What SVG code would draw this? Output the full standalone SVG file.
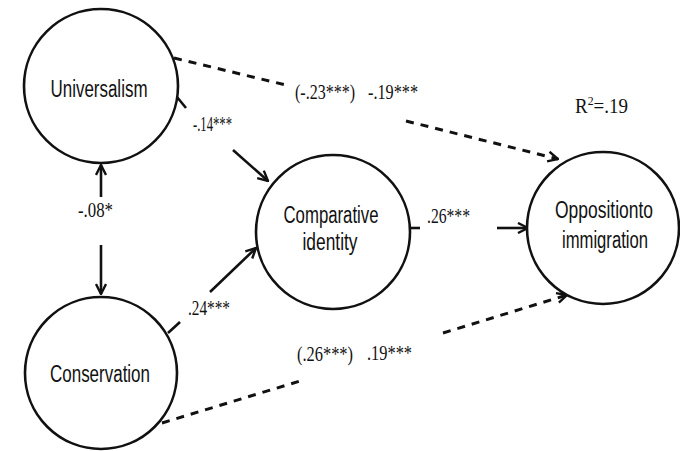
<svg xmlns="http://www.w3.org/2000/svg" width="680" height="451" viewBox="0 0 680 451">
<style>
.node circle{fill:#fff;stroke:#111;stroke-width:2.6}
.lbl{font-family:"Liberation Sans",Arial,sans-serif;font-size:23px;fill:#111;text-anchor:middle}
.coef{font-family:"Liberation Serif","Times New Roman",serif;font-size:21px;fill:#111}
.edge{fill:none;stroke:#111;stroke-width:2.6}
.dash{stroke-dasharray:8 7;stroke-width:3}
</style>
<defs>
<marker id="ah" viewBox="0 0 12 12" refX="11" refY="6" markerWidth="12" markerHeight="12" markerUnits="userSpaceOnUse" orient="auto">
<path d="M1,1 L11,6 L1,11" fill="none" stroke="#111" stroke-width="2.4"/>
</marker>
</defs>
<rect width="680" height="451" fill="#fff"/>
<g id="connectors">
<line class="edge" x1="101" y1="197" x2="101" y2="165" marker-end="url(#ah)"/>
<line class="edge" x1="101" y1="245" x2="101" y2="294" marker-end="url(#ah)"/>
<line class="edge" x1="177" y1="97" x2="186" y2="108"/>
<line class="edge" x1="233" y1="150" x2="268" y2="181" marker-end="url(#ah)"/>
<line class="edge" x1="168" y1="333" x2="180" y2="322"/>
<line class="edge" x1="210" y1="292" x2="256" y2="248" marker-end="url(#ah)"/>
<line class="edge" x1="410" y1="228" x2="420" y2="228"/>
<line class="edge" x1="497" y1="228" x2="528" y2="228" marker-end="url(#ah)"/>
<line class="edge dash" x1="174" y1="58" x2="290" y2="86"/>
<line class="edge dash" x1="406" y1="121" x2="558" y2="159" marker-end="url(#ah)"/>
<line class="edge dash" x1="162" y1="423" x2="300" y2="381"/>
<line class="edge dash" x1="443" y1="333" x2="567" y2="295" marker-end="url(#ah)"/>
</g>
<g id="universalism" class="node">
<circle cx="101" cy="86" r="77"/>
<text class="lbl" x="99" y="97" textLength="97" lengthAdjust="spacingAndGlyphs">Universalism</text>
</g>
<g id="conservation" class="node">
<circle cx="101" cy="373" r="76"/>
<text class="lbl" x="100" y="382" textLength="100" lengthAdjust="spacingAndGlyphs">Conservation</text>
</g>
<g id="comparative" class="node">
<circle cx="333" cy="232" r="77"/>
<text class="lbl" x="331" y="223" textLength="95" lengthAdjust="spacingAndGlyphs">Comparative</text>
<text class="lbl" x="330" y="250" textLength="55" lengthAdjust="spacingAndGlyphs">identity</text>
</g>
<g id="opposition" class="node">
<circle cx="603" cy="228" r="76"/>
<text class="lbl" x="604" y="218" textLength="98" lengthAdjust="spacingAndGlyphs">Oppositionto</text>
<text class="lbl" x="605" y="248" textLength="86" lengthAdjust="spacingAndGlyphs">immigration</text>
</g>
<g id="labels">
<text class="coef" x="193" y="131" textLength="39" lengthAdjust="spacingAndGlyphs">-.14***</text>
<text class="coef" x="78" y="217" textLength="35" lengthAdjust="spacingAndGlyphs">-.08*</text>
<text class="coef" x="188" y="315" textLength="42" lengthAdjust="spacingAndGlyphs">.24***</text>
<text class="coef" x="427" y="223" textLength="43" lengthAdjust="spacingAndGlyphs">.26***</text>
<text class="coef" x="295" y="99" textLength="60" lengthAdjust="spacingAndGlyphs">(-.23***)</text>
<text class="coef" x="368" y="99" textLength="50" lengthAdjust="spacingAndGlyphs">-.19***</text>
<text class="coef" x="297" y="361" textLength="56" lengthAdjust="spacingAndGlyphs">(.26***)</text>
<text class="coef" x="367" y="360" textLength="45" lengthAdjust="spacingAndGlyphs">.19***</text>
<text class="coef" x="575" y="113" textLength="53" lengthAdjust="spacingAndGlyphs">R<tspan font-size="13" dy="-8">2</tspan><tspan dy="8">=.19</tspan></text>
</g>
</svg>
